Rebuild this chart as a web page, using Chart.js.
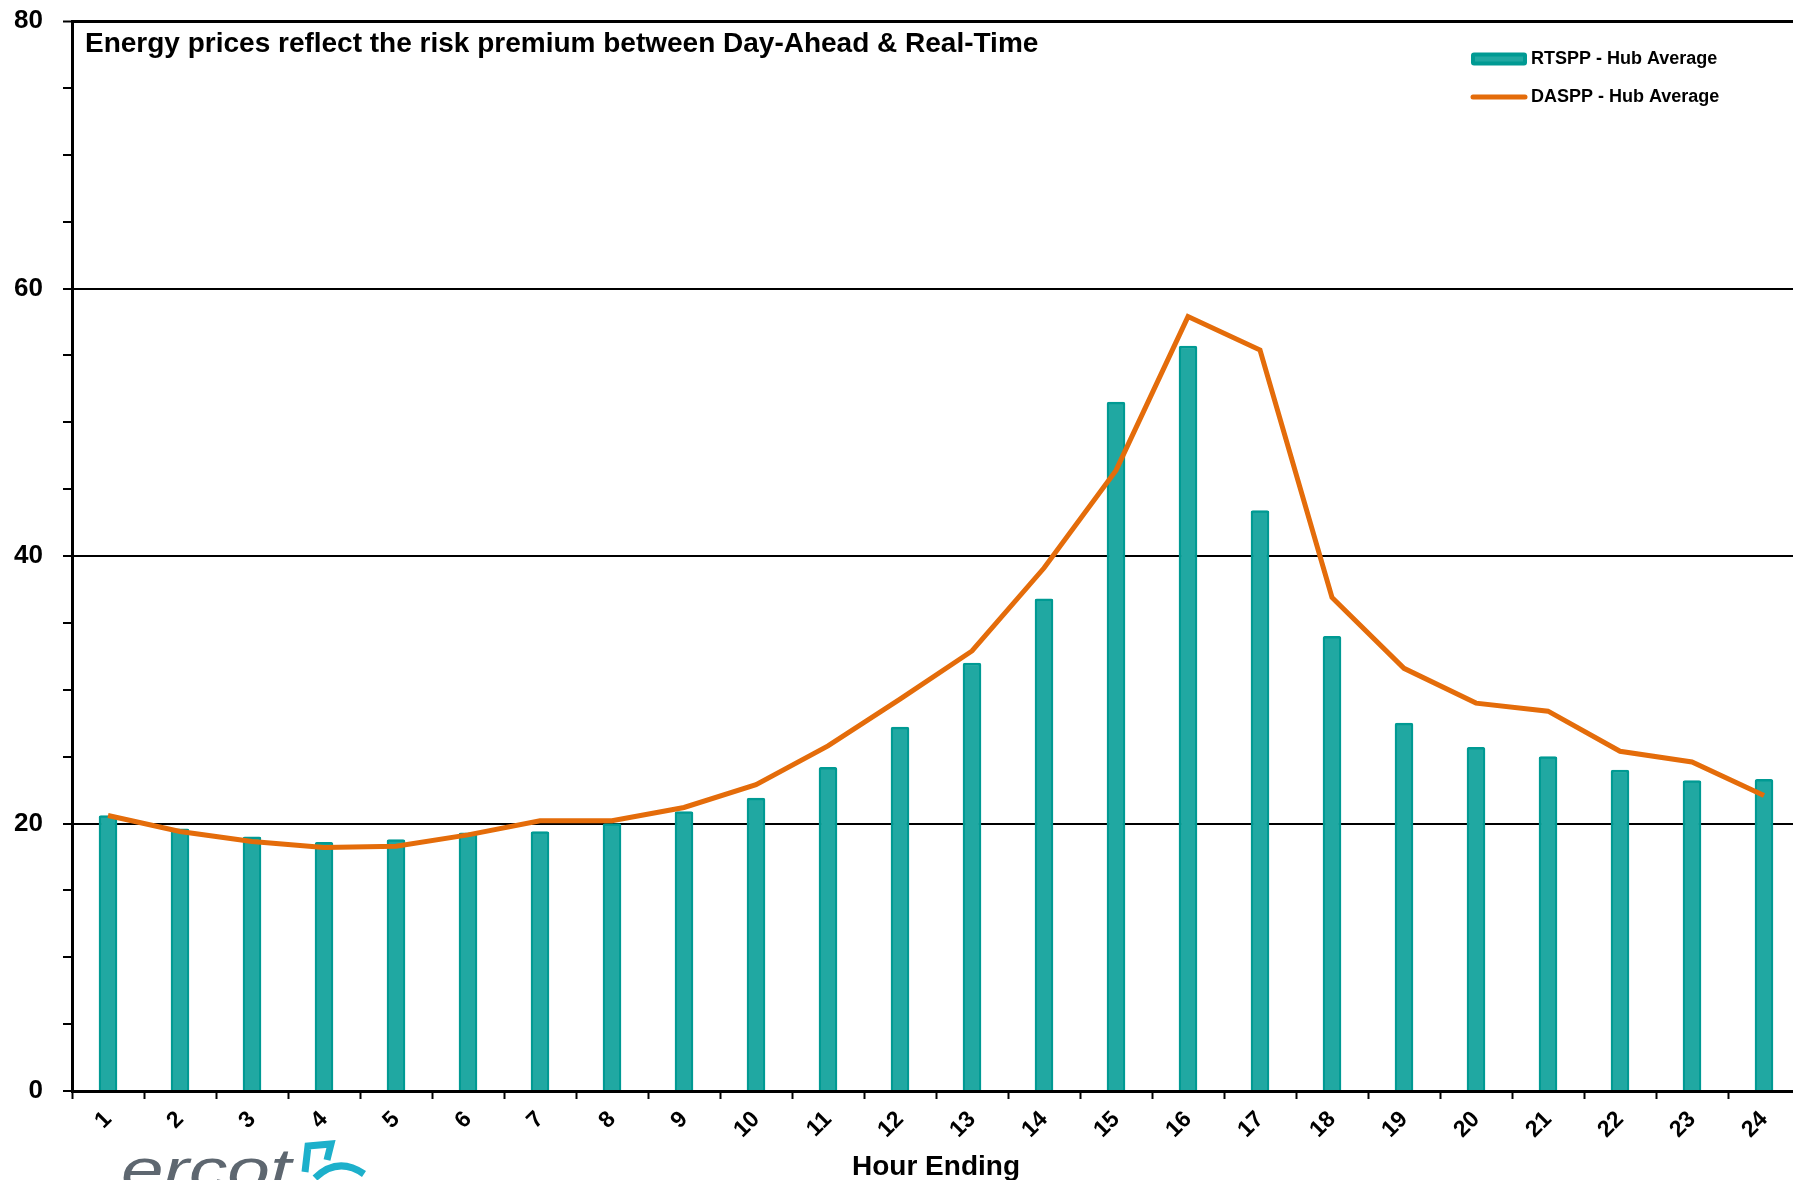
<!DOCTYPE html>
<html>
<head>
<meta charset="utf-8">
<script src="https://cdn.jsdelivr.net/npm/chart.js@4.4.1/dist/chart.umd.min.js"></script>
<style>
html,body{margin:0;padding:0;overflow:hidden;background:#fff;width:1793px;height:1180px}
#c{display:block}
</style>
</head>
<body>
<canvas id="c" width="1800" height="1180"></canvas>
<script>
// ---- data ----
const hourEnding = ['1','2','3','4','5','6','7','8','9','10','11','12','13','14','15','16','17','18','19','20','21','22','23','24'];
const rtsppHubAverage = [20.6,19.6,19.0,18.6,18.8,19.3,19.4,20.0,20.9,21.9,24.2,27.2,32.0,36.8,51.5,55.7,43.4,34.0,27.5,25.7,25.0,24.0,23.2,23.3];
const dasppHubAverage = [20.6,19.4,18.65,18.2,18.3,19.15,20.2,20.2,21.2,22.9,25.8,29.3,32.9,39.1,46.4,57.9,55.4,36.9,31.6,29.0,28.4,25.4,24.6,22.1];
const seriesNames = ['RTSPP - Hub Average','DASPP - Hub Average'];
const yLabelValues = [0,20,40,60,80];
const chartTitle = 'Energy prices reflect the risk premium between Day-Ahead & Real-Time';
const xAxisTitle = 'Hour Ending';
const logoText = 'ercot';

const FONT = "'Liberation Sans', Arial, sans-serif";
const TEAL_FILL = '#20A8A2';
const TEAL_EDGE = '#009A93';
const ORANGE = '#E46C0A';

const overlay = {
  id: 'overlay',
  afterDraw(chart) {
    const ctx = chart.ctx;
    ctx.save();
    // title inside plot
    ctx.fillStyle = '#000';
    ctx.font = 'bold 28px ' + FONT;
    ctx.textAlign = 'left';
    ctx.textBaseline = 'alphabetic';
    ctx.fillText(chartTitle, 85, 52);
    // legend
    chart.data.datasets.forEach((ds, i) => {
      const cy = 59 + i * 38;
      const x0 = 1471, x1 = 1527;
      if (ds.type === 'bar') {
        ctx.fillStyle = ds.borderColor;
        ctx.beginPath();
        ctx.roundRect(x0, cy - 6.5, x1 - x0, 13, 3);
        ctx.fill();
        ctx.fillStyle = ds.backgroundColor;
        ctx.fillRect(x0 + 4, cy - 2.5, x1 - x0 - 8, 5);
      } else {
        ctx.strokeStyle = ds.borderColor;
        ctx.lineWidth = 5;
        ctx.lineCap = 'round';
        ctx.beginPath();
        ctx.moveTo(x0 + 2, cy);
        ctx.lineTo(x1 - 2, cy);
        ctx.stroke();
      }
      ctx.fillStyle = '#000';
      ctx.font = 'bold 18px ' + FONT;
      ctx.textBaseline = 'middle';
      ctx.fillText(ds.label, 1531, cy);
    });
    // logo (partially cropped at bottom edge)
    ctx.save();
    ctx.fillStyle = '#5E6770';
    ctx.font = 'italic 58px ' + FONT;
    ctx.textBaseline = 'alphabetic';
    ctx.translate(121, 1189);
    ctx.scale(1.32, 1);
    ctx.fillText(logoText, 0, 0);
    ctx.restore();
    ctx.strokeStyle = '#1DB0CB';
    ctx.lineWidth = 7;
    ctx.lineCap = 'butt';
    ctx.lineJoin = 'miter';
    ctx.beginPath();
    ctx.moveTo(305, 1172);
    ctx.lineTo(308, 1146);
    ctx.lineTo(331, 1144);
    ctx.lineTo(327, 1160);
    ctx.stroke();
    ctx.beginPath();
    ctx.moveTo(315, 1178);
    ctx.quadraticCurveTo(338, 1156, 364, 1174);
    ctx.stroke();
    ctx.restore();
  }
};

new Chart(document.getElementById('c'), {
  data: {
    labels: hourEnding,
    datasets: [
      {
        type: 'bar',
        label: seriesNames[0],
        data: rtsppHubAverage,
        backgroundColor: TEAL_FILL,
        borderColor: TEAL_EDGE,
        borderWidth: 2.5,
        borderRadius: 2,
        borderSkipped: 'bottom',
        barThickness: 18,
        order: 2
      },
      {
        type: 'line',
        label: seriesNames[1],
        data: dasppHubAverage,
        borderColor: ORANGE,
        backgroundColor: ORANGE,
        borderWidth: 5,
        pointRadius: 0,
        tension: 0,
        fill: false,
        order: 1
      }
    ]
  },
  options: {
    responsive: false,
    devicePixelRatio: 1,
    animation: false,
    layout: { padding: { top: 21, left: 0, right: 0, bottom: 0 } },
    plugins: {
      legend: { display: false },
      title: { display: false },
      tooltip: { enabled: false }
    },
    scales: {
      x: {
        offset: true,
        grid: {
          offset: true,
          drawOnChartArea: false,
          drawTicks: true,
          tickLength: 8,
          tickColor: '#000',
          tickWidth: 2
        },
        border: { display: true, color: '#000', width: 3 },
        ticks: {
          color: '#000',
          font: { family: FONT, size: 23, weight: 'bold' },
          minRotation: 45,
          maxRotation: 45,
          autoSkip: false,
          padding: 7
        },
        title: {
          display: true,
          text: xAxisTitle,
          color: '#000',
          font: { family: FONT, size: 28, weight: 'bold' },
          padding: { top: 0, bottom: -4 }
        },
        afterFit(scale) { scale.height = 89; scale.paddingLeft = 0; scale.paddingRight = 0; }
      },
      y: {
        min: 0,
        max: 80,
        grid: {
          color: (c) => (c.tick && c.tick.value % 20 === 0 && c.tick.value !== 0) ? '#000' : 'rgba(0,0,0,0)',
          lineWidth: (c) => (c.tick && c.tick.value === 80) ? 3 : 2,
          drawTicks: true,
          tickLength: 9,
          tickColor: '#000',
          tickWidth: 2
        },
        border: { display: true, color: '#000', width: 3 },
        ticks: {
          stepSize: 5,
          autoSkip: false,
          color: '#000',
          font: { family: FONT, size: 26, weight: 'bold' },
          padding: 20,
          callback: (v) => yLabelValues.includes(v) ? String(v) : ''
        },
        afterFit(scale) { scale.width = 72; scale.paddingTop = 0; scale.paddingBottom = 0; }
      }
    }
  },
  plugins: [overlay]
});
</script>
</body>
</html>
